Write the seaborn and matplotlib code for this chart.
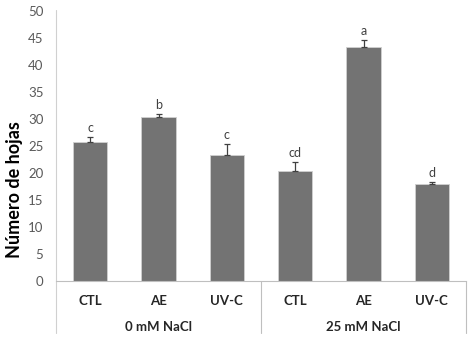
import matplotlib
matplotlib.use('Agg')
import matplotlib.pyplot as plt
import matplotlib.transforms as mtransforms
import numpy as np
import pandas as pd
import seaborn as sns

# Data
treatments = ['CTL', 'AE', 'UV-C', 'CTL', 'AE', 'UV-C']
groups = ['0 mM NaCl', '25 mM NaCl']
leaf_count = [25.8, 30.4, 23.3, 20.4, 43.3, 18.0]
leaf_err = [0.9, 0.6, 2.1, 1.7, 1.4, 0.3]
letters = ['c', 'b', 'c', 'cd', 'a', 'd']

sns.set_theme(style='white')
plt.rcParams['font.family'] = ['Lato', 'DejaVu Sans']

df = pd.DataFrame({
    'slot': [f'{g}|{t}' for g in groups for t in treatments[:3]],
    'value': leaf_count,
})

fig, ax = plt.subplots(figsize=(4.71, 3.46), dpi=100)
fig.subplots_adjust(left=56 / 471, right=466 / 471, top=1 - 11 / 346, bottom=1 - 281 / 346)

sns.barplot(data=df, x='slot', y='value', color='#737373', width=0.5,
            edgecolor='#d0d0d0', linewidth=0.6, saturation=1, ax=ax)

xpos = np.arange(len(leaf_count))
ax.errorbar(xpos, leaf_count, yerr=[np.zeros(len(leaf_err)), leaf_err],
            fmt='none', ecolor='#404040', elinewidth=0.9, capsize=2.2, capthick=0.9)

for x, v, e, l in zip(xpos, leaf_count, leaf_err, letters):
    ax.text(x, v + e + 0.5, l, ha='center', va='bottom', fontsize=9, color='#404040')

ax.set_ylim(0, 50)
ax.set_xlim(-0.5, len(leaf_count) - 0.5)
ax.set_yticks(range(0, 51, 5))
ax.tick_params(axis='y', labelsize=9.5, labelcolor='#595959', length=0, pad=9)
ax.set_xticks(xpos)
ax.set_xticklabels(treatments, fontsize=9.5, fontweight='bold', color='#262626')
ax.tick_params(axis='x', length=0, pad=10)
ax.set_xlabel('')
ax.set_ylabel('Número de hojas', fontsize=13, fontweight='bold', color='#000000')
ax.yaxis.set_label_coords(-0.08, 0.337)

for s in ['top', 'right']:
    ax.spines[s].set_visible(False)
ax.spines['left'].set_visible(False)
ax.spines['bottom'].set_color('#bfbfbf')
ax.spines['bottom'].set_linewidth(0.8)

# Left axis line and group separators extending below the axis
low = -52 / 270
ax.plot([0, 0], [low, 1.005], transform=ax.transAxes, color='#d0d0d0', lw=0.8, clip_on=False)
for xa in [0.5, 1.0]:
    ax.plot([xa, xa], [low, 0], transform=ax.transAxes, color='#bfbfbf', lw=0.8, clip_on=False)

trans = mtransforms.blended_transform_factory(ax.transData, ax.transAxes)
for i, g in enumerate(groups):
    ax.text(3 * i + 1, -46 / 270, g, transform=trans, ha='center', va='center',
            fontsize=9.5, fontweight='bold', color='#262626')

fig.savefig('out.png', dpi=100)
